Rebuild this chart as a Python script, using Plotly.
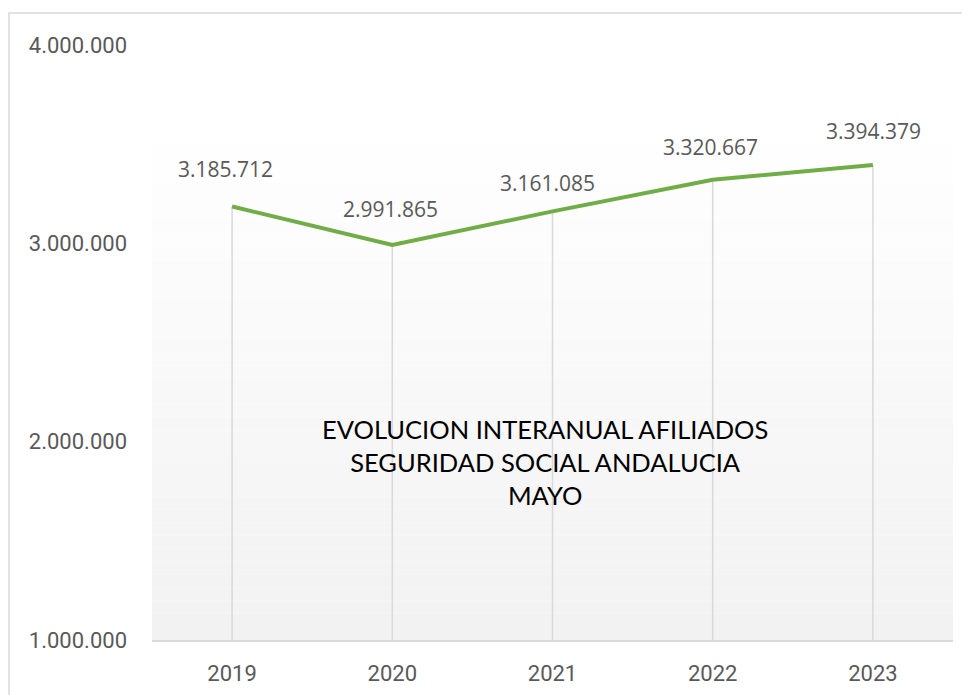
import plotly.graph_objects as go

years = ['2019', '2020', '2021', '2022', '2023']
afiliados = [3185712, 2991865, 3161085, 3320667, 3394379]
y_ticks = [1000000, 2000000, 3000000, 4000000]

LINE_GREEN = '#70AD47'
GRID_GRAY = '#D9D9D9'
TEXT_GRAY = '#595959'

# label nudges (pixels) as placed in the original chart
label_dx = [-7, -2, -5, -2, 1]
label_dy = [38, 36, 28, 33, 34]

# the page body adds 8px around the figure; positions below are screen pixels
OFF = 8
W, H = 970, 695
PLOT_X0, PLOT_X1 = 152, 953
PLOT_Y0, PLOT_Y1 = 45, 640
M_L = PLOT_X0 - OFF
M_R = W - (PLOT_X1 - OFF)
M_T = PLOT_Y0 - OFF
M_B = H - (PLOT_Y1 - OFF)
PW = PLOT_X1 - PLOT_X0
PH = PLOT_Y1 - PLOT_Y0


def px_x(px):
    return (px - PLOT_X0) / PW


def px_y(py):
    return (PLOT_Y1 - py) / PH


def fmt(v):
    return f'{v:,}'.replace(',', '.')


fig = go.Figure()

# drop lines from axis to each point
drop_x, drop_y = [], []
for yr, v in zip(years, afiliados):
    drop_x += [yr, yr, None]
    drop_y += [y_ticks[0], v, None]
fig.add_trace(go.Scatter(
    x=drop_x, y=drop_y, mode='lines',
    line=dict(color=GRID_GRAY, width=1.5),
    hoverinfo='skip', showlegend=False
))

fig.add_trace(go.Scatter(
    x=years, y=afiliados, mode='lines',
    line=dict(color=LINE_GREEN, width=4),
    hovertemplate='%{x}: %{y:,d}<extra></extra>',
    showlegend=False
))

# value labels (category index as x so '2019' is not read as a number)
for i, v in enumerate(afiliados):
    fig.add_annotation(
        x=i, y=v, text=fmt(v), showarrow=False,
        xshift=label_dx[i], yshift=label_dy[i],
        font=dict(family='Open Sans', size=21, color=TEXT_GRAY)
    )

# soft vertical gradient in the plot area (white -> light gray)
n_steps = 40
g_top = px_y(117)
for i in range(n_steps):
    y0 = g_top * i / n_steps
    y1 = g_top * (i + 1) / n_steps
    c = round(242 + 13 * (i / (n_steps - 1)))
    fig.add_shape(
        type='rect', xref='paper', yref='paper',
        x0=0, x1=1, y0=y0, y1=y1,
        fillcolor=f'rgb({c},{c},{c})', line_width=0, layer='below'
    )

# outer chart border (cropped at right and bottom)
fig.add_shape(
    type='rect', xref='paper', yref='paper',
    x0=px_x(OFF + 1), x1=px_x(W + 20), y0=px_y(H + 20), y1=px_y(13),
    line=dict(color=GRID_GRAY, width=1.5), fillcolor='rgba(0,0,0,0)', layer='below'
)

fig.add_annotation(
    x=px_x(545), y=px_y(462), xref='paper', yref='paper',
    xanchor='center', yanchor='middle',
    text='EVOLUCION INTERANUAL AFILIADOS<br>SEGURIDAD SOCIAL ANDALUCIA<br>MAYO',
    showarrow=False, align='center',
    font=dict(family='Lato', size=25.5, color='#000000')
)

fig.update_layout(
    width=W, height=H,
    margin=dict(l=M_L, r=M_R, t=M_T, b=M_B, pad=0),
    paper_bgcolor='white',
    plot_bgcolor='rgba(0,0,0,0)',
    separators=',.',
    font=dict(family='Roboto', color=TEXT_GRAY),
    xaxis=dict(
        type='category', range=[-0.5, 4.5],
        showgrid=False, zeroline=False,
        showline=True, linecolor=GRID_GRAY, linewidth=2,
        ticks='', ticklabelstandoff=13,
        tickfont=dict(family='Roboto', size=22, color=TEXT_GRAY)
    ),
    yaxis=dict(
        range=[y_ticks[0], y_ticks[-1]],
        tickvals=y_ticks, tickformat=',d',
        showgrid=False, zeroline=False, showline=False,
        ticks='', ticklabelstandoff=24,
        tickfont=dict(family='Roboto', size=22, color=TEXT_GRAY)
    )
)

fig.write_html('out.html')
